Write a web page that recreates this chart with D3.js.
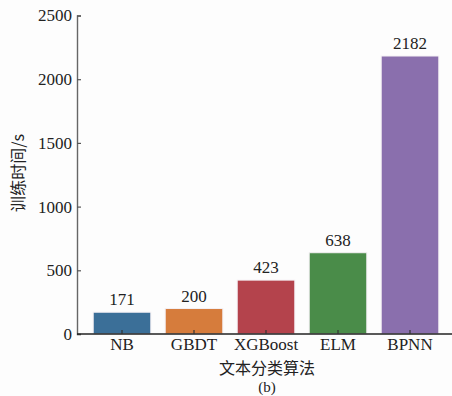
<!DOCTYPE html>
<html>
<head>
<meta charset="utf-8">
<script src="https://cdn.jsdelivr.net/npm/d3@7"></script>
<style>
  html, body { margin: 0; padding: 0; background: #fdfdfd; }
  svg { display: block; }
  .serif { font-family: "Liberation Serif", "DejaVu Serif", serif; }
  .cjk { font-family: "Noto Sans CJK SC", sans-serif; }
</style>
</head>
<body>
<svg id="chart" width="452" height="396"></svg>
<script>
// Training time per text classification algorithm
const categories = ["NB", "GBDT", "XGBoost", "ELM", "BPNN"];
const trainTimes = [171, 200, 423, 638, 2182];
const barColors = ["#3b6f98", "#d67c3c", "#b4434c", "#4a8c49", "#8a6fad"];
const yTicks = [0, 500, 1000, 1500, 2000, 2500];

const svg = d3.select("#chart");

const x = d3.scaleBand()
  .domain(categories)
  .range([86, 446])
  .paddingInner(0.2)
  .paddingOuter(0.1);

const y = d3.scaleLinear()
  .domain([0, 2500])
  .range([334, 15.5]);

// bars
svg.append("g")
  .selectAll("rect")
  .data(categories)
  .join("rect")
  .attr("x", d => x(d))
  .attr("width", x.bandwidth())
  .attr("y", (d, i) => y(trainTimes[i]))
  .attr("height", (d, i) => y(0) - y(trainTimes[i]))
  .attr("fill", (d, i) => barColors[i])
  .attr("stroke", "#f4f0f4")
  .attr("stroke-width", 1);

// value labels
svg.append("g")
  .selectAll("text")
  .data(categories)
  .join("text")
  .attr("class", "serif")
  .attr("x", d => x(d) + x.bandwidth() / 2)
  .attr("y", (d, i) => y(trainTimes[i]) - 7)
  .attr("text-anchor", "middle")
  .style("font-size", "17px")
  .attr("fill", "#222")
  .text((d, i) => trainTimes[i]);

// y axis
const yAxis = svg.append("g")
  .attr("transform", "translate(77,0)")
  .call(d3.axisRight(y).tickValues(yTicks).tickSize(4).tickFormat(d3.format("d")))
  .attr("font-family", null);
yAxis.select(".domain").attr("stroke", "#666").attr("stroke-width", 1.4);
yAxis.selectAll(".tick line").attr("stroke", "#555").attr("stroke-width", 1.2);
yAxis.selectAll(".tick text")
  .attr("class", "serif")
  .attr("x", -5)
  .attr("text-anchor", "end")
  .style("font-size", "17px")
  .attr("fill", "#222");

// x axis
const xAxis = svg.append("g")
  .attr("transform", "translate(0,334)")
  .call(d3.axisTop(x).tickSize(4).tickSizeOuter(0))
  .attr("font-family", null);
xAxis.select(".domain").attr("d", "M77,0H452").attr("stroke", "#222").attr("stroke-width", 1.4);
xAxis.selectAll(".tick line").attr("stroke", "#333").attr("stroke-width", 1.2);
xAxis.selectAll(".tick text")
  .attr("class", "serif")
  .attr("y", 16)
  .attr("dy", "0")
  .style("font-size", "17px")
  .attr("fill", "#222");

// axis titles
svg.append("text")
  .attr("class", "cjk")
  .attr("x", 267)
  .attr("y", 374)
  .attr("text-anchor", "middle")
  .style("font-size", "16px")
  .attr("fill", "#222")
  .text("文本分类算法");

svg.append("text")
  .attr("class", "serif")
  .attr("x", 267)
  .attr("y", 392)
  .attr("text-anchor", "middle")
  .style("font-size", "15px")
  .attr("fill", "#222")
  .text("(b)");

svg.append("text")
  .attr("class", "cjk")
  .attr("transform", "translate(24,173) rotate(-90)")
  .attr("text-anchor", "middle")
  .style("font-size", "16px")
  .attr("fill", "#222")
  .text("训练时间/s");
</script>
</body>
</html>
